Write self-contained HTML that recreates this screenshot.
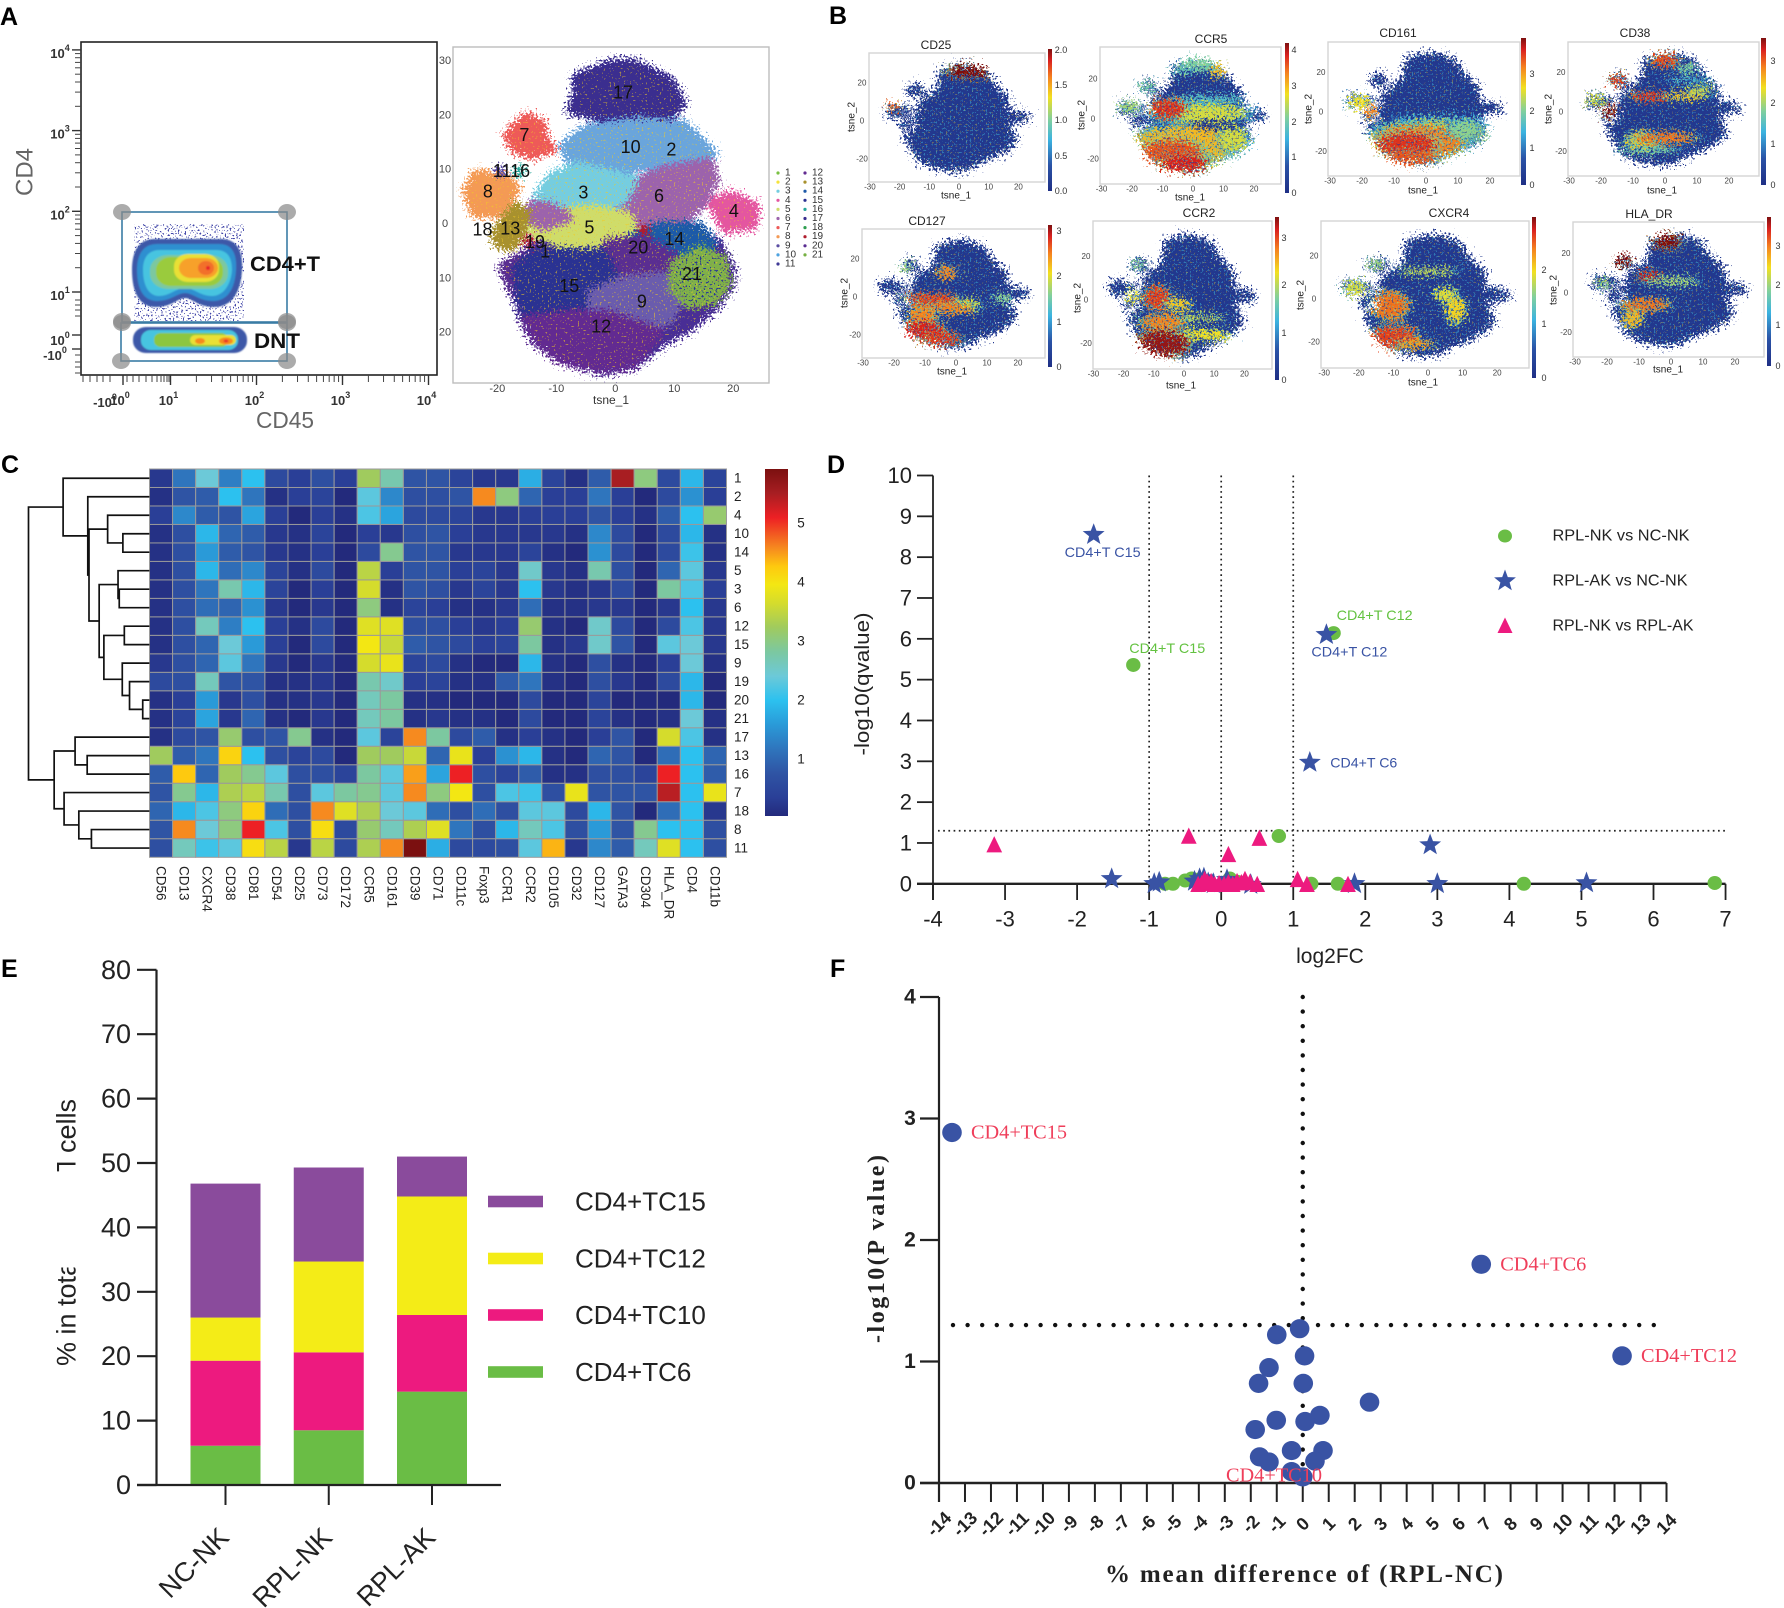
<!DOCTYPE html>
<html lang="en">
<head>
<meta charset="utf-8">
<title>CD4+ T cell cluster analysis</title>
<style>
html,body{margin:0;padding:0;background:#fff;}
svg{display:block;font-family:"Liberation Sans",Arial,sans-serif;}
</style>
</head>
<body>
<svg id="fig" xmlns="http://www.w3.org/2000/svg" width="1784" height="1608" viewBox="0 0 1784 1608">
<defs>
<filter id="grainA" x="-5%" y="-5%" width="110%" height="110%">
<feTurbulence type="fractalNoise" baseFrequency="0.5" numOctaves="2" seed="5" result="n"/>
<feDisplacementMap in="SourceGraphic" in2="n" scale="26" xChannelSelector="R" yChannelSelector="G"/>
</filter>
<filter id="grainB" x="-5%" y="-5%" width="110%" height="110%">
<feTurbulence type="fractalNoise" baseFrequency="0.45" numOctaves="2" seed="8" result="n"/>
<feDisplacementMap in="SourceGraphic" in2="n" scale="30" xChannelSelector="R" yChannelSelector="G"/>
</filter>
<filter id="speckle" x="0" y="0" width="100%" height="100%" color-interpolation-filters="sRGB">
<feTurbulence type="fractalNoise" baseFrequency="0.6" numOctaves="1" seed="3"/>
<feColorMatrix values="0 0 0 0 .25 0 0 0 0 .27 0 0 0 0 .66 0 0 0 16 -9.4"/>
</filter>
<filter id="spkDark" x="0" y="0" width="100%" height="100%" color-interpolation-filters="sRGB">
<feTurbulence type="fractalNoise" baseFrequency="0.5" numOctaves="1" seed="11"/>
<feColorMatrix values="0 0 0 0 .16 0 0 0 0 .22 0 0 0 0 .58 0 0 0 12 -7"/>
</filter>
<filter id="spkWarm" x="0" y="0" width="100%" height="100%" color-interpolation-filters="sRGB">
<feTurbulence type="fractalNoise" baseFrequency="0.5" numOctaves="1" seed="21"/>
<feColorMatrix values="0 0 0 0 .95 0 0 0 0 .8 0 0 0 0 .15 0 0 0 14 -8.9"/>
</filter>
<filter id="spkLight" x="0" y="0" width="100%" height="100%" color-interpolation-filters="sRGB">
<feTurbulence type="fractalNoise" baseFrequency="0.5" numOctaves="1" seed="31"/>
<feColorMatrix values="0 0 0 0 .25 0 0 0 0 .72 0 0 0 0 .85 0 0 0 14 -8.5"/>
</filter>
<filter id="soft"><feGaussianBlur stdDeviation="0.9"/></filter>
<clipPath id="clip-total"><rect x="30" y="1267.5" width="70" height="110"/></clipPath>
<clipPath id="clip-t"><rect x="30" y="1162.6" width="70" height="20"/></clipPath>
</defs>
<rect x="0" y="0" width="1784" height="1608" fill="#fff"/>
<g font-weight="bold" font-size="25" fill="#000">
<text x="0" y="25">A</text>
<text x="829" y="24">B</text>
<text x="1" y="473">C</text>
<text x="827" y="473">D</text>
<text x="1" y="977">E</text>
<text x="830" y="977">F</text>
</g>

<!-- Panel A: gating plot -->
<g id="gate">
<rect x="81" y="42" width="356" height="333" fill="#fff" stroke="#222" stroke-width="1.6"/>
<rect x="134" y="224" width="110" height="97" filter="url(#speckle)"/>
<g filter="url(#soft)">
<path d="M155 239 H221 C238 239 243 252 242 270 C241 292 232 307 214 307 C198 307 192 298 185 298 C178 298 172 307 156 307 C139 307 132 292 132 270 C132 252 138 239 155 239 Z" fill="#3e58a8"/>
<path d="M157 244 H219 C233 244 237 255 236 270 C235 288 228 301 213 301 C199 301 193 293 185 293 C177 293 171 301 157 301 C143 301 137 288 137 270 C137 255 143 244 157 244 Z" fill="#2f8fd0"/>
<path d="M160 250 H216 C228 250 232 258 232 270 C231 284 224 296 212 296 C200 296 194 288 185 288 C176 288 170 296 159 296 C148 296 143 284 143 270 C143 258 148 250 160 250 Z" fill="#46c4e0"/>
<rect x="150" y="255" width="78" height="34" rx="18" ry="15" fill="#7cc8a0"/>
<rect x="156" y="257" width="67" height="29" rx="15" ry="13" fill="#9acb3c"/>
<rect x="174" y="254" width="45" height="28" rx="14" ry="12" fill="#e9e034"/>
<rect x="179" y="258" width="39" height="20" rx="12" ry="10" fill="#f7a12a"/>
<ellipse cx="206" cy="268" rx="8" ry="7" fill="#f2702a"/>
<circle cx="208" cy="268" r="2" fill="#e8202a"/>
</g>
<g filter="url(#soft)">
<rect x="133" y="327" width="114" height="26" rx="13" ry="12" fill="#3e58a8"/>
<rect x="141" y="330" width="97" height="20" rx="10" ry="9" fill="#46c4e0"/>
<rect x="154" y="333" width="74" height="14" rx="7" ry="6" fill="#8cc63f"/>
<rect x="190" y="335" width="46" height="10" rx="5" ry="5" fill="#e9e034"/>
<ellipse cx="200" cy="341" rx="5" ry="3" fill="#f68a1f"/>
<ellipse cx="226" cy="341" rx="7" ry="3.6" fill="#f68a1f"/>
<ellipse cx="226" cy="341" rx="2.5" ry="1.5" fill="#e8302a"/>
</g>
<g>
<rect x="122" y="212" width="165" height="110" fill="none" stroke="#3a7ca5" stroke-width="1.6"/>
<rect x="121" y="323" width="166" height="38" fill="none" stroke="#3a7ca5" stroke-width="1.6"/>
<g fill="#8b8b8b" fill-opacity=".72">
<ellipse cx="122" cy="212" rx="9" ry="8"/>
<ellipse cx="287" cy="212" rx="9" ry="8"/>
<ellipse cx="122" cy="321" rx="9" ry="8"/>
<ellipse cx="287" cy="321" rx="9" ry="8"/>
<ellipse cx="122" cy="323" rx="9" ry="8"/>
<ellipse cx="287" cy="323" rx="9" ry="8"/>
<ellipse cx="121" cy="361" rx="9" ry="8"/>
<ellipse cx="287" cy="361" rx="9" ry="8"/>
</g>
</g>
<text x="250" y="271" font-size="21" font-weight="bold" textLength="70" lengthAdjust="spacingAndGlyphs" fill="#111">CD4+T</text>
<text x="254" y="348" font-size="21" font-weight="bold" textLength="46" lengthAdjust="spacingAndGlyphs" fill="#111">DNT</text>
<text x="25" y="172" font-size="24" fill="#666" text-anchor="middle" dominant-baseline="central" transform="rotate(-90 25 172)">CD4</text>
<text x="285" y="428" font-size="23" fill="#666" text-anchor="middle" textLength="58" lengthAdjust="spacingAndGlyphs">CD45</text>
</g>
<g id="gateAxes"></g>

<g id="tsne">
<rect x="453" y="47" width="316" height="336" fill="#fff" stroke="#bdbdbd" stroke-width="1.4"/>
</g>
<g id="markers"></g>
<g id="heat"></g>
<g id="volcanoD"></g>
<g id="stack">
<g clip-path="url(#clip-total)"><text x="66.5" y="1366" font-size="27" fill="#222" transform="rotate(-90 66.5 1366)" dominant-baseline="central">% in total</text></g>
<g clip-path="url(#clip-t)"><text x="66.5" y="1172" font-size="27" fill="#222" transform="rotate(-90 66.5 1172)" dominant-baseline="central">T</text></g>
<text x="66.5" y="1099" font-size="27" fill="#222" text-anchor="end" transform="rotate(-90 66.5 1099)" dominant-baseline="central">cells</text>
</g>
<g id="volcanoF">
<text x="1304" y="1582" font-size="25" font-weight="bold" font-family="Liberation Serif, serif" fill="#222" text-anchor="middle" textLength="398">% mean difference of (RPL-NC)</text>
<text x="884" y="1249" font-size="24" font-weight="bold" font-family="Liberation Serif, serif" fill="#222" text-anchor="middle" textLength="188" transform="rotate(-90 884 1249)">-log10(P value)</text>
</g>

<script>
// ---------- Panel A t-SNE data (tsne units) ----------
const clusterOrder = ['base','17','10','6','3','5','purple-scatter','14','20','left','15','9','12','21','7','8','13','4'];
const clusterColors = ['#4a2f95','#3a2d8f','#6aa5dc','#9c64ac','#74cde0','#cfdc6a','#9c64ac','#1e5aa8','#5a2d91','#5a2d91','#2c3192','#6b5cad','#622c91','#7fb04a','#ee5a58','#f49a55','#a8912e','#e456a0'];
const clusterOutlines = [
 [[-18.8,-8],[-13,-4],[4,-2],[17,-3],[19.5,-8],[19.5,-11],[17,-15],[12.5,-19],[7.5,-22],[3,-26],[-2,-27],[-9,-25],[-13.5,-21.5],[-15.5,-17.5],[-16.5,-14]],
 [[-6.5,27],[-.4,29.6],[3,29.6],[9.1,26.5],[11.2,22.2],[8.2,18.5],[-.4,19.2],[-7.4,21],[-6.5,24]],
 [[-8.7,14.2],[-4.8,17.6],[3.9,18.8],[11.7,18.2],[16.4,13],[15.1,11.8],[7.4,11.2],[1.3,9.9],[-3.9,9.9],[-7.4,11.2]],
 [[0,3.8],[3,7.5],[8.2,9.9],[16,11.2],[16.9,8.1],[14.3,3.2],[10.8,0],[4.8,-.5],[1.7,1.4]],
 [[-13.4,4.4],[-10.8,8.7],[-6.5,10.6],[-1.3,9.3],[3,8.1],[1.3,4.4],[-3,2.6],[-9.1,2],[-12.5,3.2]],
 [[-14.3,-.5],[-9.9,2],[-3,2.6],[2.2,1.4],[3,-1.1],[-1.3,-3.3],[-9.1,-3.6],[-13.4,-1.7]],
 [[-14,3.6],[-10.5,3],[-8,1.2],[-12,-.3],[-14.5,1]],
 [[3,-2.3],[7.4,-.5],[14.3,-.5],[16.4,-3.6],[14.9,-5.4],[9.1,-5.4],[3.9,-4.2]],
 [[-1.3,-3.6],[4.8,-2.9],[10,-6],[9.1,-7.9],[2.2,-9.7],[-1.3,-7.9]],
 [[-19,-8],[-14.5,-5],[-12,-7],[-14,-12],[-17,-13]],
 [[-16.5,-8],[-13.4,-5.4],[-2.2,-5.4],[-.4,-9.1],[-3,-12.8],[-6.5,-16.5],[-13.4,-18.3],[-16,-14]],
 [[-3.9,-12.8],[1.3,-10.3],[8.2,-9.7],[10.8,-14],[9.1,-17.7],[5.6,-19.5],[-.4,-17.7],[-3.9,-15.8]],
 [[-15.1,-17.7],[-6.5,-16.5],[-.4,-17],[7.4,-20.1],[3,-25.7],[-2.2,-26.6],[-9.1,-25],[-13.4,-21.4]],
 [[10,-7.6],[14.3,-5],[18,-6.5],[18.8,-10.9],[16.4,-14],[12.5,-14.6],[10,-12]],
 [[-18.2,16.4],[-15.1,19.8],[-12.5,18.5],[-12.1,15.4],[-10.8,13.9],[-14.3,12.7],[-17.3,14.2]],
 [[-25.1,6],[-23.4,9.3],[-17.7,7.8],[-16.9,6.3],[-19.9,2],[-23.8,2]],
 [[-20.3,-1.7],[-16.9,3.2],[-15.1,2],[-16,-1.7],[-17.7,-4.2],[-19.9,-3.6]],
 [[16.4,3.8],[19.5,5.3],[23.6,3.2],[23.4,-.2],[18.6,-.8]]
];
const tinyClusterX = [-14.7,4.9,-16.2,-19.5];
const tinyClusterY = [-3.2,-1.1,9.7,9.8];
const tinyClusterColors = ['#b01e2e','#b01e2e','#26a69a','#5b4ea3'];
const clusterLabelText = ['17','10','2','7','3','6','8','1116','18','13','5','4','19','1','14','20','21','15','9','12'];
const clusterLabelX = [1.3,2.6,9.5,-15.4,-5.4,7.4,-21.6,-17.6,-22.5,-17.8,-4.4,20.1,-13.6,-11.9,10,3.9,13,-7.8,4.5,-2.4];
const clusterLabelY = [24.2,14.2,13.7,16.4,5.8,5.2,6,9.8,-1,-.8,-.6,2.4,-3.3,-5.1,-2.8,-4.3,-9.2,-11.4,-14.3,-18.9];
const legendIds = ['1','2','3','4','5','6','7','8','9','10','11','12','13','14','15','16','17','18','19','20','21'];
const legendColors = ['#7ac143','#f5e33c','#74cde0','#e456a0','#cfdc6a','#9c64ac','#ee5a58','#f49a55','#5b4ea3','#4fa3e0','#3f3a96','#622c91','#a8912e','#1e5aa8','#2c3192','#26a69a','#3a2d8f','#2e9e4f','#b01e2e','#5a2d91','#76b043'];
const tsneXTicks = [-20,-10,0,10,20];
const tsneYTicks = [30,20,10,0,-10,-20];

// ---------- Panel B marker data ----------
const silhouetteMain = [[-7,22],[-6.5,27],[-.5,30],[3,30],[9,27],[11,22],[13,18],[16.5,13],[17,8],[16.5,4.5],[19.5,5.5],[23.7,3],[23.4,-.3],[18.5,-1],[17,-1.5],[18.5,-6],[19.5,-11],[17,-15],[12.5,-19],[7.5,-22],[3,-26],[-2,-27],[-9,-25],[-13.5,-21.5],[-15.5,-17.5],[-16.5,-14],[-18.8,-8],[-17,-5],[-14,-3.5],[-15,0],[-15,3],[-14,4],[-14,9],[-11,13],[-8.7,15],[-7,19]];
const silhouetteLobe7 = [[-18,16.4],[-15,19.8],[-12.5,18.5],[-12,15.4],[-10.8,13.9],[-14.3,12.7],[-17.3,14.2]];
const silhouetteLobe8 = [[-25,6],[-23.4,9.3],[-17.7,7.8],[-15,6],[-19.9,2],[-23.8,2]];
const silhouetteLobe13 = [[-20.3,-1.7],[-16.9,3.2],[-15,2],[-16,-1.7],[-17.7,-4.2],[-19.9,-3.6]];
const markerNames = ['CD25','CCR5','CD161','CD38','CD127','CCR2','CXCR4','HLA_DR'];
const markerBarTicks = [['2.0','1.5','1.0','0.5','0.0'],['4','3','2','1','0'],['3','2','1','0'],['3','2','1','0'],['3','2','1','0'],['3','2','1','0'],['2','1','0'],['3','2','1','0']];
const markerXTicks = [-30,-20,-10,0,10,20];
const markerYTicks = [20,0,-20];
const markerHotspots = [
 [[3.5,26,7,2.8,1],[-22.5,7.5,2.6,1.5,.85]],
 [[3,27,7,3,.5],[8,24,2,3,.72],[-4,24,3,1.5,.45],[-15,16,2.2,2.2,.5],[-21,6,3.5,2.5,.55],[5,10,12,1.4,.42],[2,3,15,4.5,.62],[-8,5,5.5,4.5,.9],[3,-14,15,9,.68],[-2,-12,17,8,.72],[13,-10,4.5,6,.62],[-7,-18,10,7.5,.86],[-3,-22,7.5,4,.92],[7,-3,7,1.8,.03],[-2,-3,2,1,.3]],
 [[-21,5,3,3,.66],[-17,0,1.6,3.5,.8],[5,-3.5,14,1.2,.35],[6,-10,13,6,.62],[2,-8,15,3.6,.64],[-3,-15,14,8,.8],[12,-9,5,4.5,.52],[-6,-16,9,5.5,.9],[-5,-23,8,3,.86]],
 [[-15,16,2.2,2.2,.9],[-18,1,2.3,3.2,1],[0,26,4,3,.88],[7,22,3,2,.5],[8,16,8,1,.4],[-22,6,3,2,.62],[5,8,8,1.5,.7],[11,11,4,1.8,.6],[-5,8,5,2,.9],[-7,-14,5,4,.7],[0,-13,9,2.4,.82],[-5,-19,9,1.4,.5]],
 [[-3,13,3,3,.8],[-16,16,1.8,1.8,.55],[-8,-1,8,2.6,.88],[-3,-6,9,2.4,.8],[4,-3,4,1.4,.62],[15,-1,3,2,.52],[-11,-12,4,7,.8],[-10,-18,6,5,.92],[-5,-22,6,2.8,.9]],
 [[-9,1,3.8,5,.88],[-2,-2,4,2.6,.7],[-17,2,2,3,.66],[4,-8,9,1.1,.6],[-7,-10,7,3,.8],[5,-16,10,2.2,.66],[-7,-20,8,6,.98],[-15,16,1.8,1.8,.52]],
 [[-11,-3,5,6,.82],[0,13,8,1.2,.6],[5,2,3.2,3,.64],[8,-5,2.6,6,.68],[-15,16,2,2,.55],[-21,5,3,3,.62],[-10,-18,6.5,5,.88],[-4,-21,5,1.8,.76]],
 [[-15,17,2.8,2.8,1],[-1,26,4,3.3,1],[-7,8,3,3,.94],[0,6,8,1.6,.56],[-8,-6,7,2.6,.82],[-12,-13,2.8,4,.72],[-21,5,2,2,.55]]
];

// ---------- Panel C heatmap data ----------
const heatColumns = ['CD56','CD13','CXCR4','CD38','CD81','CD54','CD25','CD73','CD172','CCR5','CD161','CD39','CD71','CD11c','Foxp3','CCR1','CCR2','CD105','CD32','CD127','GATA3','CD304','HLA_DR','CD4','CD11b'];
const heatRowLabels = ['1','2','4','10','14','5','3','6','12','15','9','19','20','21','17','13','16','7','18','8','11'];
const heatValues = [
 [.3,1.2,2.4,1.3,2.0,.6,.4,.7,.4,3.2,2.7,.8,.8,.5,.3,.3,1.8,.5,.2,.9,5.4,3.0,.6,1.9,.5],
 [.2,.8,.9,2.0,1.2,.2,.4,.5,.1,2.3,1.4,.7,.7,.8,4.5,3.0,1.0,.4,.4,1.2,.4,.1,.6,1.5,.4],
 [.4,1.4,.9,.8,1.7,.4,.1,.4,.2,2.2,1.7,.6,.6,.5,.3,.3,.4,.4,.4,.8,.4,.2,.9,2.0,3.1],
 [.2,.7,1.9,1.0,.9,.3,.2,.5,.1,.4,.3,.7,.8,.4,.3,.3,.3,.3,.2,1.4,.6,.1,.6,1.9,.2],
 [.2,.7,1.6,.9,.8,.3,.2,.4,.1,.6,2.9,.8,.8,.3,.3,.3,.5,.2,.1,1.5,.6,.1,.6,2.1,.2],
 [.2,.7,1.9,1.1,1.4,.5,.2,.6,.1,3.4,.4,.8,.8,.4,.5,.3,2.5,.3,.2,2.7,.7,.1,1.0,2.3,.3],
 [.2,.7,1.2,2.7,1.9,.5,.1,.4,.1,3.6,.2,.8,.7,.3,.5,.3,2.0,.3,.2,.3,.6,.1,2.8,2.2,.4],
 [.2,.7,1.1,1.0,1.5,.3,.1,.3,.1,3.0,.2,.5,.4,.2,.2,.3,1.1,.2,.2,.3,.3,.1,.3,2.0,.3],
 [.2,.7,2.6,1.3,2.0,.4,.2,.6,.1,3.7,3.7,.7,.7,.4,.3,.4,3.1,.2,.1,2.5,.6,.1,.6,2.2,.3],
 [.2,.7,1.0,2.4,1.6,.4,.1,.6,.1,3.9,3.5,.9,.8,.6,.4,.5,2.8,.2,.3,2.5,.8,.1,2.3,2.4,.3],
 [.3,.7,1.0,2.3,1.2,.3,.1,.3,.1,3.6,3.8,.5,.6,.2,.1,.1,1.9,.2,.1,.7,.2,.1,.4,2.4,.2],
 [.6,.7,2.6,.8,.8,.2,.2,.3,.1,2.7,2.5,.4,.5,.2,.2,.9,1.2,.2,.1,.7,.3,.1,.6,1.9,.1],
 [.2,.4,1.6,.3,.7,.2,.2,.3,.1,2.6,2.8,.2,.2,.1,.1,.1,.6,.1,.1,.5,.1,.1,.1,1.9,.1],
 [.2,.5,1.7,.3,1.0,.2,.1,.3,.1,2.6,2.8,.2,.3,.2,.2,.1,.6,.1,.1,.5,.2,.1,.2,2.4,.2],
 [.2,.6,.8,3.1,.7,.8,2.9,.2,.1,2.3,.5,4.5,2.8,.6,.9,.2,.4,.2,.1,.4,.8,.1,3.6,2.2,.2],
 [3.2,.9,1.2,4.1,2.0,.7,.5,.6,.1,3.2,3.2,3.5,1.0,3.8,.4,1.5,1.9,.2,.1,1.0,.8,.1,1.1,2.0,1.0],
 [.9,4.2,1.0,3.2,2.9,2.3,.7,.7,.5,2.8,2.3,4.4,1.7,5.0,.7,.5,.9,.2,.2,.7,.7,.5,5.0,2.0,.9],
 [.8,2.9,1.9,3.3,3.4,2.7,.7,2.3,2.8,2.9,2.3,4.5,3.0,3.9,.7,2.2,2.1,.7,3.8,.8,.8,.8,5.3,2.0,3.8],
 [1.0,1.9,2.2,3.0,4.1,1.1,.7,4.5,3.7,3.3,2.4,2.3,1.1,.7,1.1,.7,2.3,2.3,.6,1.9,.8,.1,1.1,2.0,.3],
 [.8,4.5,2.4,3.0,5.0,2.2,.7,4.0,.6,3.1,2.6,3.3,3.7,1.2,.7,1.9,2.6,2.2,.7,1.6,.8,2.9,2.0,2.0,.7],
 [.7,2.6,2.1,2.3,4.0,3.4,.3,3.4,.6,3.3,4.5,5.8,1.8,.6,.6,.7,2.3,4.3,.3,1.4,.9,2.6,3.7,2.0,.7]
];
const heatLegendTicks = [1,2,3,4,5];
const dendrogram = [1,[.714,'1',[.51,'2',[.5,[.346,'4',[.22,'10','14']],[.416,[.26,'5',[.25,'3','6']],[.377,[.208,'12','15'],[.225,'9',[.165,'19',[.056,'20','21']]]]]]]],[.788,[.615,'17',[.515,'13','16']],[.706,'7',[.584,'18',[.48,'8','11']]]]];

// ---------- Panel D data ----------
const dXTicks = [-4,-3,-2,-1,0,1,2,3,4,5,6,7];
const dYTicks = [0,1,2,3,4,5,6,7,8,9,10];
const greenX = [-1.22,1.56,.8,6.85,4.2,1.62,1.25,-.67,-.78,-.5,-.41,-.33,.12,.22];
const greenY = [5.36,6.14,1.17,.02,0,0,0,0,0,.08,.13,.1,.13,.05];
const starX = [-1.77,1.46,1.23,2.9,-1.52,3,5.07,1.85,-.93,-.86,-.24,-.37,.08,.41,-.11,-.3,-.18];
const starY = [8.55,6.1,2.97,.95,.12,0,.02,0,0,.04,.14,.06,.1,-.02,0,.12,.02];
const triX = [-3.15,-.45,.53,.1,1.06,1.19,1.76,.5,-.32,-.27,-.23,-.19,-.14,-.09,-.03,.04,.1,.16,.22,.28,.33,.4];
const triY = [.95,1.16,1.11,.71,.1,-.02,-.02,-.02,-.02,0,.1,.03,.05,-.02,0,-.02,.02,-.02,.05,.02,.1,.03];
const dLabelText = ['CD4+T C15','CD4+T C15','CD4+T C12','CD4+T C12','CD4+T C6'];
const dLabelX = [-1.77,-1.22,1.56,1.46,1.23];
const dLabelY = [8.55,5.36,6.14,6.1,2.97];
const dLegendText = ['RPL-NK vs NC-NK','RPL-AK vs NC-NK','RPL-NK vs RPL-AK'];

// ---------- Panel E data ----------
const groups = ['NC-NK','RPL-NK','RPL-AK'];
const seriesNames = ['CD4+TC6','CD4+TC10','CD4+TC12','CD4+TC15'];
const seriesColors = ['#6abd45','#ed1a7f','#f4ec17','#8a4b9c'];
const tc6 = [6.1,8.5,14.5];
const tc10 = [13.2,12.1,11.9];
const tc12 = [6.7,14.1,18.4];
const tc15 = [20.8,14.6,6.2];
const eYTicks = [0,10,20,30,40,50,60,70,80];

// ---------- Panel F data ----------
const fDiffX = [-13.5,6.87,12.29,-.12,-1,.07,-1.3,-1.7,.02,2.57,.66,-1.02,.09,-1.83,-.43,.78,-1.66,-1.3,.47,-.43,0];
const fLogP = [2.885,1.8,1.046,1.27,1.22,1.046,.95,.82,.82,.665,.557,.516,.506,.44,.267,.267,.215,.173,.18,.094,.05];
const fLabelText = ['CD4+TC15','CD4+TC6','CD4+TC12','CD4+TC10'];
const fLabelX = [-13.5,6.87,12.29,-3];
const fLabelY = [2.885,1.8,1.046,.06];
const fXTicks = [-14,-13,-12,-11,-10,-9,-8,-7,-6,-5,-4,-3,-2,-1,0,1,2,3,4,5,6,7,8,9,10,11,12,13,14];
const fYTicks = [0,1,2,3,4];

// ---------- helpers ----------
const NS = 'http://www.w3.org/2000/svg';
function el(tag, attrs, parent, content) {
  const e = document.createElementNS(NS, tag);
  for (const k in attrs) e.setAttribute(k, attrs[k]);
  if (content !== undefined) e.textContent = content;
  if (parent) parent.appendChild(e);
  return e;
}
function label(parent, x, y, str, size, opts) {
  const o = opts || {};
  const a = {x: x, y: y, 'font-size': size, fill: o.fill || '#222', 'text-anchor': o.anchor || 'middle', 'dominant-baseline': 'central'};
  if (o.len) { a.textLength = o.len; a.lengthAdjust = 'spacingAndGlyphs'; }
  if (o.weight) a['font-weight'] = o.weight;
  if (o.family) a['font-family'] = o.family;
  if (o.rot !== undefined) a.transform = 'rotate(' + o.rot + ' ' + x + ' ' + y + ')';
  return el('text', a, parent, str);
}
function lerpHex(a, b, t) {
  const p = c => [1,3,5].map(i => parseInt(c.substr(i,2),16));
  const x = p(a), y = p(b);
  return 'rgb(' + x.map((v,i) => Math.round(v + (y[i]-v)*t)).join(',') + ')';
}
function ramp(stopsV, stopsC, v) {
  if (v <= stopsV[0]) return stopsC[0];
  for (let i = 1; i < stopsV.length; i++) {
    if (v <= stopsV[i]) return lerpHex(stopsC[i-1], stopsC[i], (v - stopsV[i-1]) / (stopsV[i] - stopsV[i-1]));
  }
  return stopsC[stopsC.length-1];
}
const defs = document.querySelector('#fig defs');
function starPoints(cx, cy, r) {
  const pts = [];
  for (let i = 0; i < 10; i++) {
    const rad = i % 2 ? r * .42 : r;
    const ang = -Math.PI/2 + i * Math.PI/5;
    pts.push((cx + rad*Math.cos(ang)).toFixed(1) + ',' + (cy + rad*Math.sin(ang)).toFixed(1));
  }
  return pts.join(' ');
}

// ---------- Panel A: log axes ----------
const gateG = document.getElementById('gateAxes');
const gateDecades = [1,2,3,4];
const gateMinor = [2,3,4,5,6,7,8,9];
const gateLowY = [300,305,310,316,349,355,362,367,373];
const gateLowX = [83,90,97,103,110,123,127,133,139,146,152,157,161,164,167,169];
const gateY = d => 292 - 80.7 * (d - 1);
const gateX = d => 170.5 + 86 * (d - 1);
function exp10(parent, x, y, prefix, sup) {
  const t = el('text', {x: x, y: y, 'font-size': 13, 'font-weight': 'bold', fill: '#333', 'text-anchor': 'middle', 'dominant-baseline': 'central'}, parent);
  el('tspan', {}, t, prefix);
  el('tspan', {dy: -5, 'font-size': 9}, t, sup);
  return t;
}
gateDecades.forEach(d => {
  const ty0 = el('line', {x1: 72, x2: 81, y1: gateY(d), y2: gateY(d), stroke: '#333', 'stroke-width': 1.4}, gateG);
  
  
  const tx0 = el('line', {x1: gateX(d), x2: gateX(d), y1: 375, y2: 385, stroke: '#333', 'stroke-width': 1.4}, gateG);
  
  
  const ly = exp10(gateG, 60, gateY(d) + 3, '10', String(d));
  
  
  const lx = exp10(gateG, gateX(d) - 2, 400, '10', String(d));
  
  
  gateMinor.forEach(m => {
    if (d === 4) return;
    const off = Math.log10(m);
    const my = el('line', {x1: 75, x2: 81, y1: gateY(d + off), y2: gateY(d + off), stroke: '#444', 'stroke-width': 1}, gateG);
    
    
    const mx = el('line', {x1: gateX(d + off), x2: gateX(d + off), y1: 375, y2: 382, stroke: '#444', 'stroke-width': 1}, gateG);
    
    
  });
});
gateLowY.forEach(v => {
  const t = el('line', {x1: 75, x2: 81, y1: v, y2: v, stroke: '#444', 'stroke-width': 1}, gateG);
  
  
});
gateLowX.forEach(v => {
  const t = el('line', {x1: v, x2: v, y1: 375, y2: 382, stroke: '#444', 'stroke-width': 1}, gateG);
  
  
});
[[60,340,'10','0'],[55,355,'-10','0'],[120,400,'10','0'],[105,402,'-10','0']].forEach(c => {
  const t = exp10(gateG, c[0], c[1], c[2], c[3]);
  
  
});
[[72,81,335,335],[72,81,349,349],[123,123,375,385]].forEach(c => {
  const t = el('line', {x1: c[0], x2: c[1], y1: c[2], y2: c[3], stroke: '#333', 'stroke-width': 1.4}, gateG);
  
  
});

// ---------- Panel A: t-SNE clusters ----------
const tsneG = document.getElementById('tsne');
const tx = v => 615.3 + 5.9 * v;
const ty = v => 224 - 5.43 * v;
const clusterPoints = outline => outline.map(q => tx(q[0]).toFixed(1) + ',' + ty(q[1]).toFixed(1)).join(' ');
const clusterGroup = el('g', {filter: 'url(#grainA)'}, tsneG);


const tsneClip = el('clipPath', {id: 'tsneBody'}, defs);
const clip21 = el('clipPath', {id: 'tsne21'}, defs);
clusterOutlines.forEach((outline, i) => {
  const p = el('polygon', {points: clusterPoints(outline), fill: clusterColors[i], 'stroke-linejoin': 'round', stroke: clusterColors[i], 'stroke-width': 10}, clusterGroup);
  
  
  el('polygon', {points: clusterPoints(outline)}, tsneClip);
  if (clusterOrder[i] === '21') el('polygon', {points: clusterPoints(outline), stroke: '#000', 'stroke-width': 8}, clip21);
});
tinyClusterX.forEach((v, i) => {
  const c = el('ellipse', {cx: tx(v), cy: ty(tinyClusterY[i]), rx: 6, ry: 5, fill: tinyClusterColors[i]}, clusterGroup);
  
  
});
const spk21 = el('g', {'clip-path': 'url(#tsne21)'}, tsneG);


el('rect', {x: 660, y: 250, width: 90, height: 90, filter: 'url(#spkDark)'}, spk21);
const spkBody = el('g', {'clip-path': 'url(#tsneBody)'}, tsneG);


el('rect', {x: 455, y: 50, width: 310, height: 330, filter: 'url(#spkWarm)', opacity: .55}, spkBody);
clusterLabelText.forEach((s, i) => {
  const t = label(tsneG, tx(clusterLabelX[i]), ty(clusterLabelY[i]), s, 18, {fill: '#111'});
  
  
});
tsneXTicks.forEach(v => {
  const t = label(tsneG, tx(v), 389, String(v), 11, {fill: '#444'});
  
  
});
tsneYTicks.forEach(v => {
  const t = label(tsneG, 445, ty(v), String(Math.abs(v)), 11, {fill: '#444'});
  
  
});
const tsneTitle = label(tsneG, 611, 400, 'tsne_1', 12, {fill: '#333'});


legendIds.forEach((s, i) => {
  const col = i < 11 ? 0 : 1;
  const row = col ? i - 11 : i;
  const lx = col ? 805 : 778;
  const ly = 173 + row * 9.1;
  const d = el('circle', {cx: lx, cy: ly, r: 1.6, fill: legendColors[i]}, tsneG);
  
  
  const t = label(tsneG, lx + 7, ly, s, 10, {anchor: 'start', fill: '#333'});
  
  
});

// ---------- Panel B: marker panels ----------
const jetV = [0,.18,.36,.5,.66,.8,.92,1];
const jetC = ['#1f2f85','#2a52a6','#3bb3e0','#7fcf9f','#f2e020','#f5821f','#d9201f','#7d1010'];
const panelLayout = [
 {fx:869,fy:53,fw:176,fh:129,x0:959,ux:2.97,y0:121,uy:1.9,bx:1048,bw:4,bt:49,bb:191,lx:1061,tickYs:[50,85,120,156,191],tx:936,ty:45,xtx:956,xty:196,ytx:852,yty:117},
 {fx:1100,fy:47,fw:181,fh:137,x0:1193,ux:3.05,y0:119,uy:2,bx:1285,bw:4,bt:43,bb:193,lx:1294,tickYs:[50,86,122,157,193],tx:1211,ty:39,xtx:1190,xty:198,ytx:1082,yty:115},
 {fx:1328,fy:42,fw:192,fh:134,x0:1426,ux:3.2,y0:112,uy:1.98,bx:1521,bw:5,bt:38,bb:185,lx:1532,tickYs:[74,111,148,185],tx:1398,ty:33,xtx:1423,xty:191,ytx:1309,yty:109},
 {fx:1568,fy:42,fw:191,fh:134,x0:1665,ux:3.2,y0:112,uy:1.98,bx:1761,bw:5,bt:38,bb:185,lx:1773,tickYs:[61,103,144,185],tx:1635,ty:33,xtx:1662,xty:191,ytx:1549,yty:109},
 {fx:862,fy:229,fw:183,fh:129,x0:956,ux:3.1,y0:297,uy:1.9,bx:1048,bw:4,bt:225,bb:367,lx:1059,tickYs:[231,276,322,367],tx:927,ty:221,xtx:952,xty:372,ytx:845,yty:293},
 {fx:1093,fy:221,fw:179,fh:148,x0:1184,ux:3.02,y0:300,uy:2.18,bx:1275,bw:4,bt:217,bb:380,lx:1284,tickYs:[238,285,333,380],tx:1199,ty:213,xtx:1181,xty:386,ytx:1078,yty:298},
 {fx:1321,fy:221,fw:208,fh:147,x0:1428,ux:3.46,y0:299,uy:2.14,bx:1532,bw:4,bt:217,bb:378,lx:1544,tickYs:[270,324,378],tx:1449,ty:213,xtx:1423,xty:383,ytx:1301,yty:295},
 {fx:1573,fy:222,fw:191,fh:135,x0:1671,ux:3.2,y0:293,uy:1.97,bx:1767,bw:4,bt:217,bb:366,lx:1778,tickYs:[246,285,325,366],tx:1649,ty:214,xtx:1668,xty:370,ytx:1554,yty:290}
];
const markerG = document.getElementById('markers');
const jetGrad = el('linearGradient', {id: 'jetBar', x1: 0, x2: 0, y1: 1, y2: 0}, defs);
jetV.forEach((v, i) => el('stop', {offset: v, 'stop-color': jetC[i]}, jetGrad));
markerNames.forEach((nm, idx) => {
  const L = panelLayout[idx];
  const sx = v => L.x0 + L.ux * v;
  const sy = v => L.y0 - L.uy * v;
  const poly = arr => arr.map(q => sx(q[0]).toFixed(1) + ',' + sy(q[1]).toFixed(1)).join(' ');
  const g = el('g', {}, markerG);
  
  
  const frame = el('rect', {x: L.fx, y: L.fy, width: L.fw, height: L.fh, fill: '#fff', stroke: '#d4d4d4', 'stroke-width': 1.4}, g);
  
  
  const clip = el('clipPath', {id: 'sil' + idx}, defs);
  [silhouetteMain, silhouetteLobe7, silhouetteLobe8, silhouetteLobe13].forEach(a => el('polygon', {points: poly(a)}, clip));
  const grain = el('g', {filter: 'url(#grainB)'}, g);
  
  
  const clipped = el('g', {'clip-path': 'url(#sil' + idx + ')'}, grain);
  el('rect', {x: L.fx, y: L.fy, width: L.fw, height: L.fh, fill: ramp(jetV, jetC, .05)}, clipped);
  markerHotspots[idx].forEach(b => {
    [[1.25,.5],[1.1,.78],[1,1]].forEach(h => {
      const v = b[4] < .1 ? b[4] : b[4] * h[1];
      const e = el('ellipse', {cx: sx(b[0]), cy: sy(b[1]), rx: b[2]*L.ux*h[0], ry: b[3]*L.uy*h[0], fill: ramp(jetV, jetC, v), 'fill-opacity': h[1] === 1 ? 1 : .8}, clipped);
      
      
    });
  });
  const specks = el('g', {'clip-path': 'url(#sil' + idx + ')'}, g);
  
  
  el('rect', {x: L.fx, y: L.fy, width: L.fw, height: L.fh, filter: 'url(#spkDark)', opacity: .6}, specks);
  el('rect', {x: L.fx, y: L.fy, width: L.fw, height: L.fh, filter: 'url(#spkLight)', opacity: .5}, specks);
  el('rect', {x: L.fx, y: L.fy, width: L.fw, height: L.fh, filter: 'url(#spkWarm)', opacity: .35}, specks);
  const bar = el('rect', {x: L.bx, y: L.bt, width: L.bw, height: L.bb - L.bt, fill: 'url(#jetBar)'}, g);
  
  
  markerBarTicks[idx].forEach((s, i) => {
    const t = label(g, L.lx, L.tickYs[i], s, 9, {fill: '#333'});
    
    
  });
  const title = label(g, L.tx, L.ty, nm, 12, {fill: '#222'});
  
  
  const xt = label(g, L.xtx, L.xty, 'tsne_1', 10, {fill: '#222'});
  
  
  const yt = label(g, L.ytx, L.yty, 'tsne_2', 10, {fill: '#222', rot: -90});
  
  
  markerXTicks.forEach(v => {
    const t = label(g, sx(v), L.fy + L.fh + 5, String(v), 8, {fill: '#444'});
    
    
  });
  markerYTicks.forEach(v => {
    const t = label(g, L.fx - 7, sy(v), String(v), 8, {fill: '#444'});
    
    
  });
});

// ---------- Panel C: heatmap ----------
const heatG = document.getElementById('heat');
const hmV = [.1,.4,.8,1.2,1.6,2,2.4,2.8,3.2,3.6,3.9,4.2,4.5,5,5.4,5.8];
const hmC = ['#232a7c','#2a3f97','#2f54a4','#2f75bd','#2a9ad8','#2cc1ef','#6cc9d8','#7cc8a0','#a0cb5e','#d5dc2c','#f3e713','#fec90f','#f68a1f','#ed2024','#a81e22','#7b1010'];
const hX0 = 149.5, hY0 = 469, hW = 577 / heatColumns.length, hH = 388.3 / heatRowLabels.length;
heatValues.forEach((row, r) => {
  row.forEach((v, c) => {
    const cell = el('rect', {x: hX0 + c*hW, y: hY0 + r*hH, width: hW, height: hH, fill: ramp(hmV, hmC, v), stroke: '#9a9a9a', 'stroke-width': 1}, heatG);
    
    
  });
  const t = label(heatG, 734, hY0 + (r + .5)*hH, heatRowLabels[r], 13.5, {anchor: 'start', fill: '#222'});
  
  
});
heatColumns.forEach((s, c) => {
  const x = hX0 + (c + .5)*hW, y = 866;
  const t = label(heatG, x, y, s, 13.5, {anchor: 'start', fill: '#222', rot: 90});
  
  
});
const hmGrad = el('linearGradient', {id: 'hmBar', x1: 0, x2: 0, y1: 1, y2: 0}, defs);
hmV.forEach((v, i) => el('stop', {offset: (v - .1) / 5.7, 'stop-color': hmC[i]}, hmGrad));
const hmBar = el('rect', {x: 765, y: 469, width: 23, height: 347, fill: 'url(#hmBar)'}, heatG);


heatLegendTicks.forEach(v => {
  const t = label(heatG, 801, 818 - v*59, String(v), 13.5, {fill: '#222'});
  
  
});
function drawTree(node) {
  if (typeof node === 'string') {
    const pos = heatRowLabels.indexOf(node);
    return {x: hX0, y: hY0 + (pos + .5)*hH};
  }
  const a = drawTree(node[1]), b = drawTree(node[2]);
  const nx = hX0 - node[0] * 121;
  const p = el('polyline', {points: a.x + ',' + a.y + ' ' + nx + ',' + a.y + ' ' + nx + ',' + b.y + ' ' + b.x + ',' + b.y, fill: 'none', stroke: '#111', 'stroke-width': 1.7}, heatG);
  
  
  return {x: nx, y: (a.y + b.y) / 2};
}
drawTree(dendrogram);

// ---------- Panel D ----------
const dG = document.getElementById('volcanoD');
const dx = v => 933 + 72.05 * (v + 4);
const dy = v => 883.8 - 40.83 * v;
[-1,0,1].forEach(v => {
  const l = el('line', {x1: dx(v), x2: dx(v), y1: dy(10), y2: dy(0), stroke: '#222', 'stroke-width': 1.7, 'stroke-dasharray': '1.7 3.5'}, dG);
  
  
});
const dH = el('line', {x1: 938, x2: dx(7), y1: dy(1.3), y2: dy(1.3), stroke: '#222', 'stroke-width': 1.7, 'stroke-dasharray': '1.7 3.5'}, dG);


const dYAxis = el('line', {x1: dx(-4), x2: dx(-4), y1: dy(10), y2: 900, stroke: '#222', 'stroke-width': 1.8}, dG);


const dXAxis = el('line', {x1: 917, x2: dx(7), y1: dy(0), y2: dy(0), stroke: '#222', 'stroke-width': 2.4}, dG);


dYTicks.forEach(v => {
  const t = el('line', {x1: 917, x2: dx(-4), y1: dy(v), y2: dy(v), stroke: '#222', 'stroke-width': 1.8}, dG);
  
  
  const s = label(dG, 912, dy(v), String(v), 22, {anchor: 'end', fill: '#222'});
  
  
});
dXTicks.forEach(v => {
  const t = el('line', {x1: dx(v), x2: dx(v), y1: dy(0), y2: 900, stroke: '#222', 'stroke-width': 1.8}, dG);
  
  
  const s = label(dG, dx(v), 919, String(v), 22, {fill: '#222'});
  
  
});
const dXTitle = label(dG, 1330, 956.5, 'log2FC', 21, {fill: '#222'});


const dYTitle = label(dG, 863, 684, '-log10(qvalue)', 20, {fill: '#222', rot: -90, len: 143});


function triPoints(cx, cy, s) {
  return cx + ',' + (cy - s*.85) + ' ' + (cx + s*.75) + ',' + (cy + s*.7) + ' ' + (cx - s*.75) + ',' + (cy + s*.7);
}
greenX.forEach((v, i) => {
  const c = el('ellipse', {cx: dx(v), cy: dy(greenY[i]), rx: 7.2, ry: 7, fill: '#6abd45'}, dG);
  
  
});
starX.forEach((v, i) => {
  const c = el('polygon', {points: starPoints(dx(v), dy(starY[i]), 11.5), fill: '#3953a4'}, dG);
  
  
});
triX.forEach((v, i) => {
  const c = el('polygon', {points: triPoints(dx(v), dy(triY[i]), 10.5), fill: '#ed1a7f'}, dG);
  
  
});
const dLabelOffX = [9,34,41,23,54];
const dLabelOffY = [17.5,-17,-18,17,0];
const dLabelColors = ['#3953a4','#63c240','#63c240','#3953a4','#3953a4'];
const dLabelLen = [76,76,76,76,67];
dLabelText.forEach((s, i) => {
  const t = label(dG, dx(dLabelX[i]) + dLabelOffX[i], dy(dLabelY[i]) + dLabelOffY[i], s, 14, {fill: dLabelColors[i], len: dLabelLen[i]});
  
  
});
const dLegendY = [536,581,626];
const legG = el('g', {}, dG);


const m1 = el('ellipse', {cx: 1505, cy: dLegendY[0], rx: 7, ry: 6.5, fill: '#6abd45'}, legG);


const m2 = el('polygon', {points: starPoints(1505, dLegendY[1], 11.5), fill: '#3953a4'}, legG);


const m3 = el('polygon', {points: triPoints(1505, dLegendY[2], 10), fill: '#ed1a7f'}, legG);


const dLegendLen = [137,135,141];
dLegendText.forEach((s, i) => {
  const t = label(legG, 1552.5, dLegendY[i], s, 16, {anchor: 'start', fill: '#222', len: dLegendLen[i]});
  
  
});

// ---------- Panel E ----------
const eG = document.getElementById('stack');
const ey = v => 1485 - 6.44 * v;
const ex = i => 225.5 + 103.25 * i;
const allSeries = [tc6, tc10, tc12, tc15];
groups.forEach((grp, i) => {
  let acc = 0;
  allSeries.forEach((arr, s) => {
    const top = acc + arr[i];
    const b = el('rect', {x: ex(i) - 35, y: ey(top), width: 70, height: ey(acc) - ey(top), fill: seriesColors[s]}, eG);
    
    
    acc = top;
  });
  const t = el('line', {x1: ex(i), x2: ex(i), y1: 1485, y2: 1505, stroke: '#222', 'stroke-width': 2}, eG);
  
  
  const tx2 = ex(i) + 5;
  const lab = el('text', {x: tx2, y: 1539, 'font-size': 27, fill: '#222', 'text-anchor': 'end', transform: 'rotate(-45 ' + tx2 + ' 1539)'}, eG, grp);
  
  
});
const eAxisY = el('line', {x1: 156.5, x2: 156.5, y1: ey(80), y2: 1486, stroke: '#222', 'stroke-width': 2.2}, eG);


const eAxisX = el('line', {x1: 137, x2: 501, y1: 1485, y2: 1485, stroke: '#222', 'stroke-width': 2.2}, eG);


eYTicks.forEach(v => {
  const t = el('line', {x1: 137, x2: 156.5, y1: ey(v), y2: ey(v), stroke: '#222', 'stroke-width': 2.2}, eG);
  
  
  const s = label(eG, 131, ey(v), String(v), 27, {anchor: 'end', fill: '#222'});
  
  
});
const eLegendOrder = [3,2,1,0];
const eLegendY = [1201.5,1258.5,1315,1372];
eLegendOrder.forEach((s, i) => {
  const r = el('rect', {x: 488, y: eLegendY[i] - 5.8, width: 55, height: 11.6, fill: seriesColors[s]}, eG);
  
  
  const t = label(eG, 575, eLegendY[i], seriesNames[s], 26, {anchor: 'start', fill: '#222'});
  
  
});

// ---------- Panel F ----------
const fG = document.getElementById('volcanoF');
const fx = v => 939 + (v + 14) * 727.5 / 28;
const fy = v => 1483 - v * 121.5;
const fV = el('line', {x1: fx(0), x2: fx(0), y1: fy(4), y2: fy(0), stroke: '#111', 'stroke-width': 4.4, 'stroke-linecap': 'round', 'stroke-dasharray': '0 14.6'}, fG);


const fH = el('line', {x1: 953, x2: 1654, y1: fy(1.3), y2: fy(1.3), stroke: '#111', 'stroke-width': 4.4, 'stroke-linecap': 'round', 'stroke-dasharray': '0 14.6'}, fG);


const fAxisY = el('line', {x1: fx(-14), x2: fx(-14), y1: fy(4), y2: 1502, stroke: '#222', 'stroke-width': 2.2}, fG);


const fAxisX = el('line', {x1: 920, x2: fx(14), y1: fy(0), y2: fy(0), stroke: '#222', 'stroke-width': 2.4}, fG);


fYTicks.forEach(v => {
  const t = el('line', {x1: 920, x2: fx(-14), y1: fy(v), y2: fy(v), stroke: '#222', 'stroke-width': 2.2}, fG);
  
  
  const s = label(fG, 910, fy(v), String(v), 21, {fill: '#222', weight: 'bold'});
  
  
});
fXTicks.forEach(v => {
  const t = el('line', {x1: fx(v), x2: fx(v), y1: fy(0), y2: 1502, stroke: '#222', 'stroke-width': 2}, fG);
  
  
  const s = label(fG, fx(v), 1524, String(v), 18, {fill: '#222', weight: 'bold', rot: -45});
  
  
});
fDiffX.forEach((v, i) => {
  const c = el('ellipse', {cx: fx(v), cy: fy(fLogP[i]), rx: 9.8, ry: 9.6, fill: '#3953a4'}, fG);
  
  
});
const fLabelLen = [96,86,96,96];
fLabelText.forEach((s, i) => {
  const last = i === 3;
  const t = label(fG, last ? 1226 : fx(fLabelX[i]) + 19, fy(fLabelY[i]), s, 20, {anchor: 'start', fill: '#ef3e5a', family: 'Liberation Serif, serif', len: fLabelLen[i]});
  
  
});
</script>
</svg>
</body>
</html>
